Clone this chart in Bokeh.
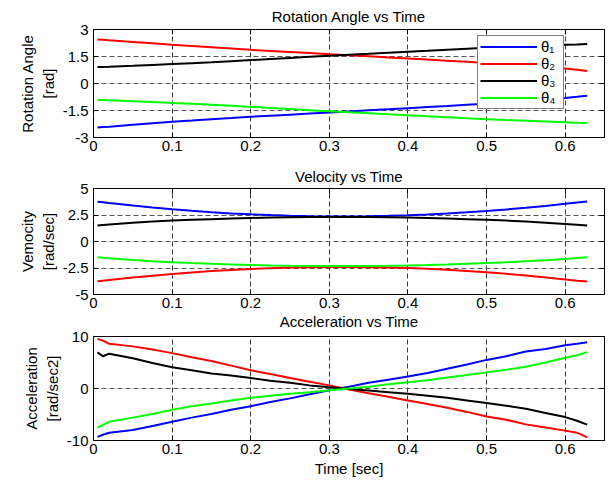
from bokeh.plotting import figure
from bokeh.layouts import column
from bokeh.models import (Range1d, FixedTicker, CustomJSTickFormatter, Legend, LegendItem,
                          LinearAxis, Title)
from bokeh.embed import file_html
from bokeh.resources import INLINE

# ---- data ----
t = [0.005, 0.012, 0.02, 0.05, 0.075, 0.1, 0.125, 0.15, 0.175, 0.2, 0.225, 0.25, 0.275, 0.3,
     0.325, 0.35, 0.375, 0.4, 0.425, 0.45, 0.475, 0.5, 0.525, 0.55, 0.575, 0.6, 0.615, 0.628]

theta1 = [-2.45, -2.42, -2.40, -2.29, -2.21, -2.13, -2.06, -1.98, -1.92, -1.85, -1.79, -1.73, -1.67, -1.61,
          -1.55, -1.49, -1.43, -1.37, -1.31, -1.25, -1.18, -1.12, -1.04, -0.96, -0.88, -0.80, -0.74, -0.68]
theta2 = [2.45, 2.43, 2.40, 2.31, 2.23, 2.15, 2.08, 2.01, 1.94, 1.87, 1.81, 1.75, 1.69, 1.63,
          1.57, 1.51, 1.45, 1.39, 1.33, 1.27, 1.21, 1.14, 1.07, 0.99, 0.91, 0.83, 0.76, 0.69]
theta3 = [0.91, 0.92, 0.93, 0.98, 1.03, 1.08, 1.13, 1.18, 1.24, 1.30, 1.36, 1.42, 1.48, 1.54,
          1.60, 1.65, 1.71, 1.77, 1.82, 1.88, 1.93, 1.98, 2.03, 2.07, 2.11, 2.15, 2.17, 2.19]
theta4 = [-0.91, -0.92, -0.93, -0.98, -1.03, -1.08, -1.13, -1.18, -1.24, -1.30, -1.36, -1.42, -1.48, -1.54,
          -1.60, -1.65, -1.71, -1.76, -1.82, -1.87, -1.93, -1.98, -2.03, -2.07, -2.11, -2.15, -2.18, -2.20]

vel1 = [3.76, 3.70, 3.63, 3.39, 3.20, 3.04, 2.89, 2.76, 2.65, 2.56, 2.49, 2.43, 2.39, 2.37,
        2.37, 2.39, 2.42, 2.48, 2.55, 2.64, 2.75, 2.88, 3.02, 3.18, 3.36, 3.56, 3.69, 3.78]
vel2 = [-3.76, -3.70, -3.63, -3.40, -3.22, -3.06, -2.92, -2.79, -2.68, -2.59, -2.52, -2.46, -2.42, -2.40,
        -2.40, -2.42, -2.45, -2.51, -2.58, -2.67, -2.78, -2.91, -3.05, -3.21, -3.39, -3.58, -3.70, -3.78]
vel3 = [1.51, 1.56, 1.61, 1.77, 1.88, 1.97, 2.05, 2.11, 2.17, 2.22, 2.26, 2.29, 2.31, 2.32,
        2.32, 2.31, 2.29, 2.26, 2.22, 2.17, 2.11, 2.05, 1.97, 1.88, 1.77, 1.66, 1.58, 1.51]
vel4 = [-1.49, -1.54, -1.59, -1.75, -1.86, -1.96, -2.04, -2.11, -2.17, -2.22, -2.26, -2.29, -2.31, -2.32,
        -2.32, -2.31, -2.29, -2.26, -2.22, -2.17, -2.11, -2.04, -1.96, -1.87, -1.76, -1.64, -1.56, -1.49]

acc1 = [-9.3, -8.9, -8.5, -8.0, -7.2, -6.4, -5.6, -4.9, -4.1, -3.4, -2.6, -1.9, -1.1, -0.35,
        0.35, 1.1, 1.7, 2.3, 3.0, 3.8, 4.6, 5.5, 6.2, 7.1, 7.6, 8.3, 8.6, 8.9]
acc2 = [9.55, 9.2, 8.6, 8.1, 7.5, 6.8, 6.0, 5.3, 4.4, 3.5, 2.8, 2.0, 1.3, 0.6,
        -0.2, -0.9, -1.6, -2.3, -3.0, -3.7, -4.5, -5.4, -6.0, -6.9, -7.5, -8.1, -8.5, -9.4]
acc3 = [6.95, 6.2, 6.7, 5.8, 4.9, 4.1, 3.5, 2.9, 2.5, 2.0, 1.5, 1.1, 0.6, 0.25,
        -0.1, -0.4, -0.7, -1.0, -1.4, -1.8, -2.3, -2.8, -3.3, -3.9, -4.7, -5.5, -6.2, -6.95]
acc4 = [-7.5, -7.0, -6.4, -5.6, -4.9, -4.1, -3.4, -2.9, -2.3, -1.8, -1.4, -1.0, -0.7, -0.35,
        0.0, 0.35, 0.8, 1.2, 1.6, 2.1, 2.6, 3.1, 3.6, 4.2, 5.0, 5.9, 6.4, 7.0]

x_ticks = [0, 0.1, 0.2, 0.3, 0.4, 0.5, 0.6]
ang_ticks = [-3, -1.5, 0, 1.5, 3]
vel_ticks = [-5, -2.5, 0, 2.5, 5]
acc_ticks = [-10, 0, 10]
titles = ["Rotation Angle vs Time", "Velocity vs Time", "Acceleration vs Time"]
series_labels = ["θ₁", "θ₂", "θ₃", "θ₄"]
colors = ["#0000ff", "#ff0000", "#000000", "#00ff00"]

FONT = "Liberation Sans"
FS = "15px"


def style_axis(ax, ticks, fmt):
    ax.ticker = FixedTicker(ticks=ticks)
    ax.formatter = fmt
    ax.major_tick_in = 5
    ax.major_tick_out = 0
    ax.minor_tick_in = 0
    ax.minor_tick_out = 0
    ax.axis_line_color = "black"
    ax.major_tick_line_color = "black"
    ax.major_label_text_font = FONT
    ax.major_label_text_font_size = FS
    ax.major_label_text_color = "black"
    ax.axis_label_text_font = FONT
    ax.axis_label_text_font_size = FS
    ax.axis_label_text_font_style = "normal"
    ax.axis_label_text_color = "black"


def make_title(text, standoff):
    return Title(text=text, align="center", text_font=FONT, text_font_size=FS,
                 text_font_style="normal", text_color="black", standoff=standoff)


def panel(ylabel, yr, yticks, series, height, top, bottom, xlabel=None, top_ticks=True,
          x_label_lh=1.0):
    p = figure(width=610, height=height, x_range=Range1d(0, 0.65), y_range=Range1d(yr[0], yr[1]),
               output_backend="svg", toolbar_location=None,
               min_border_left=93, min_border_right=6, min_border_top=top, min_border_bottom=bottom)
    p.outline_line_color = "black"
    p.outline_line_alpha = 1
    p.background_fill_color = "white"
    p.border_fill_color = "white"
    fmt = CustomJSTickFormatter(code="return String(tick);")
    style_axis(p.xaxis[0], x_ticks, fmt)
    style_axis(p.yaxis[0], yticks, fmt)
    p.xaxis.major_label_standoff = 3
    p.xaxis.major_label_text_line_height = x_label_lh
    p.yaxis.major_label_standoff = 5
    p.yaxis.axis_label = ylabel
    p.yaxis.axis_label_standoff = 3
    if xlabel:
        p.xaxis.axis_label = xlabel
        p.xaxis.axis_label_standoff = 3
    # mirrored tick marks (box on)
    blank = CustomJSTickFormatter(code="return '';")
    sides = [("right", yticks)] + ([("above", x_ticks)] if top_ticks else [])
    for side, ticks in sides:
        ax = LinearAxis()
        style_axis(ax, ticks, blank)
        ax.major_label_text_font_size = "0px"
        ax.major_label_standoff = 0
        p.add_layout(ax, side)
    p.xgrid.ticker = FixedTicker(ticks=x_ticks)
    p.ygrid.ticker = FixedTicker(ticks=yticks)
    p.xgrid.grid_line_color = "#3a3a3a"
    p.xgrid.grid_line_dash = "5 3"
    p.ygrid.grid_line_color = "#555555"
    p.ygrid.grid_line_dash = "5 3"
    renderers = []
    for ys, c in zip(series, colors):
        renderers.append(p.line(t, ys, line_color=c, line_width=2))
    return p, renderers


p1, r1 = panel("Rotation Angle\n[rad]", (-3, 3), ang_ticks,
               [theta1, theta2, theta3, theta4], 160, 29, 23)
p2, _ = panel("Vemocity\n[rad/sec]", (-5, 5), vel_ticks,
              [vel1, vel2, vel3, vel4], 169, 28, 33, x_label_lh=0.45)
p3, _ = panel("Acceleration\n[rad/sec2]", (-10, 10), acc_ticks,
              [acc1, acc2, acc3, acc4], 154, 7, 43, xlabel="Time [sec]", top_ticks=False)

p1.add_layout(make_title(titles[0], 9), "above")
p2.add_layout(make_title(titles[1], 8), "above")
# the acceleration title sits just under the velocity panel's tick labels, as in the original
p2.add_layout(make_title(titles[2], 0), "below")

legend = Legend(items=[LegendItem(label=l, renderers=[r]) for l, r in zip(series_labels, r1)],
                location=(384, 28), margin=0, padding=2, spacing=0,
                glyph_width=57, glyph_height=17, label_height=17, label_width=20, label_standoff=4,
                label_text_font=FONT, label_text_font_size=FS, label_text_color="black",
                label_text_line_height=1.0,
                border_line_color="black", border_line_width=1, background_fill_color="white",
                background_fill_alpha=1)
p1.add_layout(legend, "center")

layout = column(p1, p2, p3, spacing=0)
open("out.html", "w").write(file_html(layout, INLINE))
